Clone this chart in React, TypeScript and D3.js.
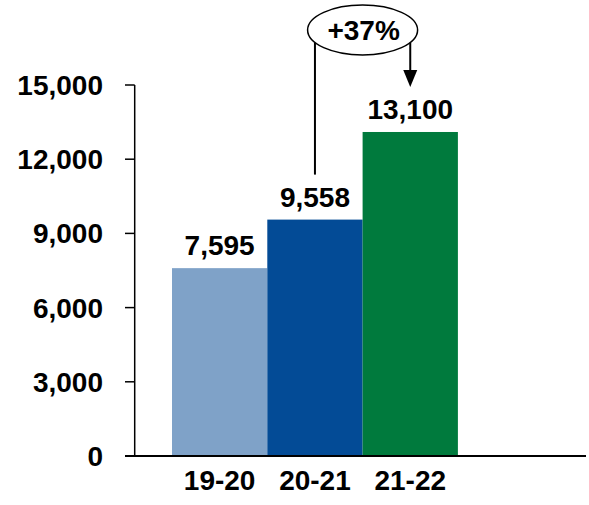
import { useEffect, useRef } from 'react';
import * as d3 from 'd3';

const categories = ['19-20', '20-21', '21-22'];
const values = [7595, 9558, 13100];
const colors = ['#7fa2c8', '#034b96', '#007a3d'];
const yTicks = [0, 3000, 6000, 9000, 12000, 15000];
const changeLabel = '+37%';

const width = 589;
const height = 505;
const font = '"Liberation Sans", Arial, sans-serif';

export default function App(): React.JSX.Element {
  const svgRef = useRef<SVGSVGElement>(null);

  useEffect(() => {
    if (!svgRef.current) return;
    const svg = d3.select(svgRef.current);
    svg.selectAll('*').remove();

    const axisX = 134.7;
    const x = d3.scaleBand<string>()
      .domain(categories)
      .range([172, 172 + 95.3 * 3])
      .paddingInner(0)
      .paddingOuter(0);
    const y = d3.scaleLinear().domain([0, 15000]).range([456, 85]);

    // bars
    svg.append('g')
      .selectAll('rect')
      .data(values)
      .join('rect')
      .attr('x', (_d, i) => x(categories[i]) ?? 0)
      .attr('width', x.bandwidth())
      .attr('y', d => y(d))
      .attr('height', d => y(0) - y(d))
      .attr('fill', (_d, i) => colors[i]);

    // value labels
    svg.append('g')
      .selectAll('text')
      .data(values)
      .join('text')
      .attr('x', (_d, i) => (x(categories[i]) ?? 0) + x.bandwidth() / 2)
      .attr('y', d => y(d) - 13)
      .attr('text-anchor', 'middle')
      .attr('font-family', font)
      .attr('font-weight', 'bold')
      .attr('font-size', 28)
      .attr('fill', '#000')
      .text(d => d3.format(',')(d));

    // y axis
    const yAxis = svg.append('g');
    yAxis.append('line')
      .attr('x1', axisX).attr('x2', axisX)
      .attr('y1', y(15000)).attr('y2', y(0))
      .attr('stroke', '#000').attr('stroke-width', 1.5);
    yAxis.selectAll('line.tick')
      .data(yTicks)
      .join('line')
      .attr('class', 'tick')
      .attr('x1', 125).attr('x2', axisX)
      .attr('y1', d => y(d)).attr('y2', d => y(d))
      .attr('stroke', '#000').attr('stroke-width', 1.5);
    yAxis.selectAll('text')
      .data(yTicks)
      .join('text')
      .attr('x', 103)
      .attr('y', d => y(d))
      .attr('dy', '0.36em')
      .attr('text-anchor', 'end')
      .attr('font-family', font)
      .attr('font-weight', 'bold')
      .attr('font-size', 28)
      .text(d => d3.format(',')(d));

    // x axis
    svg.append('line')
      .attr('x1', 125).attr('x2', 586)
      .attr('y1', y(0)).attr('y2', y(0))
      .attr('stroke', '#000').attr('stroke-width', 2);
    svg.append('g')
      .selectAll('text')
      .data(categories)
      .join('text')
      .attr('x', d => (x(d) ?? 0) + x.bandwidth() / 2)
      .attr('y', 490)
      .attr('text-anchor', 'middle')
      .attr('font-family', font)
      .attr('font-weight', 'bold')
      .attr('font-size', 28)
      .text(d => d);

    // growth annotation
    const cx1 = (x(categories[1]) ?? 0) + x.bandwidth() / 2;
    const cx2 = (x(categories[2]) ?? 0) + x.bandwidth() / 2;
    const ecx = (cx1 + cx2) / 2;
    const ecy = 30;
    const rx = 55;
    const ry = 25;
    const edgeY = (px: number): number =>
      ecy + ry * Math.sqrt(Math.max(0, 1 - ((px - ecx) / rx) ** 2));
    const ann = svg.append('g');
    ann.append('line')
      .attr('x1', cx1).attr('x2', cx1)
      .attr('y1', edgeY(cx1)).attr('y2', y(values[1]) - 45)
      .attr('stroke', '#000').attr('stroke-width', 2);
    ann.append('line')
      .attr('x1', cx2).attr('x2', cx2)
      .attr('y1', edgeY(cx2)).attr('y2', y(values[2]) - 58)
      .attr('stroke', '#000').attr('stroke-width', 2);
    const tipY = y(values[2]) - 45;
    ann.append('path')
      .attr('d', `M${cx2 - 7},${tipY - 17}L${cx2 + 7},${tipY - 17}L${cx2},${tipY}Z`)
      .attr('fill', '#000');
    ann.append('ellipse')
      .attr('cx', ecx).attr('cy', ecy)
      .attr('rx', rx).attr('ry', ry)
      .attr('fill', '#fff')
      .attr('stroke', '#000').attr('stroke-width', 1.5);
    ann.append('text')
      .attr('x', ecx + 1)
      .attr('y', 40)
      .attr('text-anchor', 'middle')
      .attr('font-family', font)
      .attr('font-weight', 'bold')
      .attr('font-size', 28)
      .text(changeLabel);
  }, []);

  return (
    <svg
      ref={svgRef}
      width={width}
      height={height}
      style={{ position: 'absolute', left: 0, top: 0, background: '#fff' }}
    />
  );
}
